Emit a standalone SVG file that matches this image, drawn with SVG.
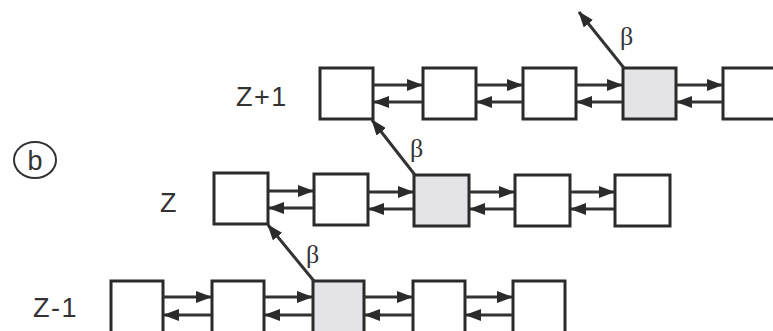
<svg xmlns="http://www.w3.org/2000/svg" width="773" height="331" viewBox="0 0 773 331">
<style>
.box{fill:#fff;stroke:#2b2b2b;stroke-width:3}
.sh{fill:#e4e4e8}
.ln{stroke:#333;stroke-width:3;fill:none}
.lbl{font-family:"Liberation Sans",Arial,sans-serif;font-size:27px;fill:#333;letter-spacing:1.5px}
.beta{font-family:"Liberation Serif","DejaVu Serif",serif;font-size:26px;fill:#333}
</style>
<defs>
<marker id="ah" markerUnits="userSpaceOnUse" markerWidth="16" markerHeight="12" refX="15" refY="6" orient="auto">
<path d="M0,0 L16,6 L0,12 Z" fill="#2b2b2b"/>
</marker>
</defs>
<rect width="773" height="331" fill="#fff"/>
<g id="label-b">
<ellipse cx="35" cy="160" rx="21" ry="18" fill="none" stroke="#333" stroke-width="2"/>
<text x="35" y="170" text-anchor="middle" class="lbl" style="font-size:27px;letter-spacing:0">b</text>
</g>
<g id="row-labels">
<text x="236" y="106" class="lbl">Z+1</text>
<text x="160" y="212" class="lbl">Z</text>
<text x="33" y="317" class="lbl">Z-1</text>
</g>
<g id="nodes">
<g id="zp1-1"><rect class="box" x="320" y="68" width="53" height="51"/></g>
<g id="zp1-2"><rect class="box" x="423" y="68" width="53" height="51"/></g>
<g id="zp1-3"><rect class="box" x="523" y="68" width="53" height="51"/></g>
<g id="zp1-4"><rect class="box sh" x="623" y="68" width="53" height="51"/></g>
<g id="zp1-5"><rect class="box" x="723" y="68" width="53" height="51"/></g>
<g id="z-1"><rect class="box" x="214" y="173" width="54" height="51"/></g>
<g id="z-2"><rect class="box" x="314" y="174" width="54" height="51"/></g>
<g id="z-3"><rect class="box sh" x="414" y="175" width="55" height="51"/></g>
<g id="z-4"><rect class="box" x="515" y="175" width="55" height="51"/></g>
<g id="z-5"><rect class="box" x="615" y="175" width="55" height="51"/></g>
<g id="zm1-1"><rect class="box" x="111" y="281" width="52" height="52"/></g>
<g id="zm1-2"><rect class="box" x="212" y="281" width="52" height="52"/></g>
<g id="zm1-3"><rect class="box sh" x="313" y="281" width="51" height="52"/></g>
<g id="zm1-4"><rect class="box" x="413" y="281" width="52" height="52"/></g>
<g id="zm1-5"><rect class="box" x="513" y="281" width="52" height="52"/></g>
</g>
<g id="connectors">
<path class="ln" marker-end="url(#ah)" d="M373,85 H422"/>
<path class="ln" marker-end="url(#ah)" d="M422,102 H374"/>
<path class="ln" marker-end="url(#ah)" d="M476,85 H522"/>
<path class="ln" marker-end="url(#ah)" d="M522,102 H477"/>
<path class="ln" marker-end="url(#ah)" d="M576,85 H622"/>
<path class="ln" marker-end="url(#ah)" d="M622,102 H577"/>
<path class="ln" marker-end="url(#ah)" d="M676,85 H722"/>
<path class="ln" marker-end="url(#ah)" d="M722,102 H677"/>

<path class="ln" marker-end="url(#ah)" d="M268,191 H313"/>
<path class="ln" marker-end="url(#ah)" d="M313,208 H269"/>
<path class="ln" marker-end="url(#ah)" d="M368,192 H413"/>
<path class="ln" marker-end="url(#ah)" d="M413,209 H369"/>
<path class="ln" marker-end="url(#ah)" d="M469,192 H514"/>
<path class="ln" marker-end="url(#ah)" d="M514,209 H470"/>
<path class="ln" marker-end="url(#ah)" d="M570,192 H614"/>
<path class="ln" marker-end="url(#ah)" d="M614,209 H571"/>

<path class="ln" marker-end="url(#ah)" d="M163,297 H211"/>
<path class="ln" marker-end="url(#ah)" d="M211,315 H164"/>
<path class="ln" marker-end="url(#ah)" d="M264,297 H312"/>
<path class="ln" marker-end="url(#ah)" d="M312,315 H265"/>
<path class="ln" marker-end="url(#ah)" d="M364,297 H412"/>
<path class="ln" marker-end="url(#ah)" d="M412,315 H365"/>
<path class="ln" marker-end="url(#ah)" d="M465,297 H512"/>
<path class="ln" marker-end="url(#ah)" d="M512,315 H466"/>

<path class="ln" marker-end="url(#ah)" d="M624,68 L579,12"/>
<path class="ln" marker-end="url(#ah)" d="M415,175 L372,120"/>
<path class="ln" marker-end="url(#ah)" d="M314,281 L268,225"/>
</g>
<g id="beta-labels">
<text x="620" y="45" class="beta">β</text>
<text x="410" y="157" class="beta">β</text>
<text x="306" y="263" class="beta">β</text>
</g>
</svg>
